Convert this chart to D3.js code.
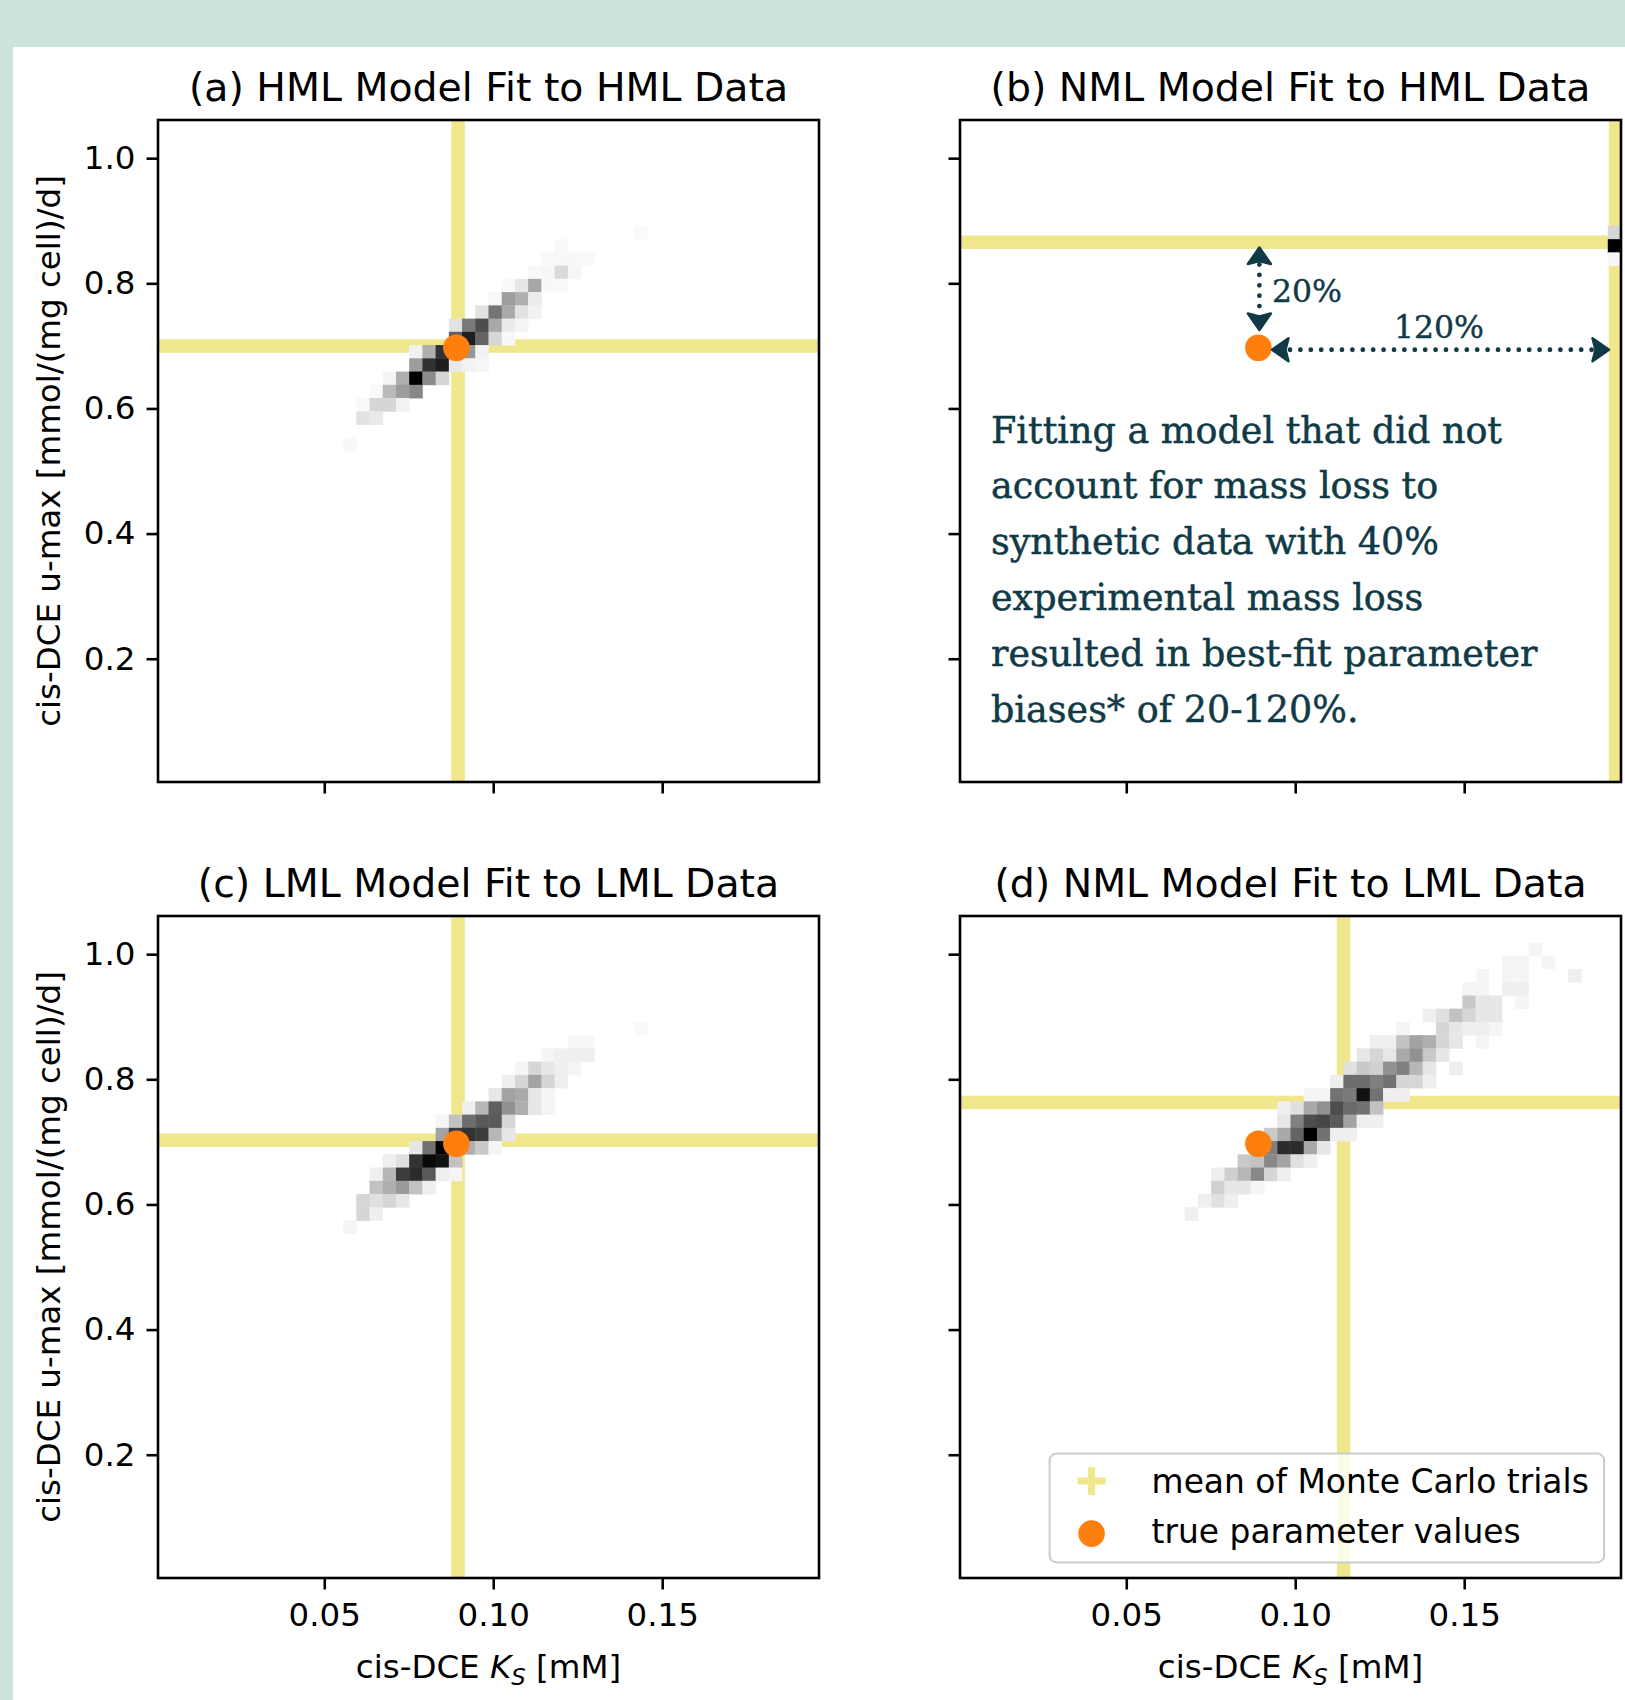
<!DOCTYPE html>
<html>
<head>
<meta charset="utf-8">
<script src="https://cdnjs.cloudflare.com/ajax/libs/d3/7.8.5/d3.min.js"></script>
<style>
  body { margin: 0; background: #cce5dc; }
  svg { display: block; }
  text { font-family: "DejaVu Sans", sans-serif; }
</style>
</head>
<body>
<svg id="chart" width="1625" height="1700"></svg>
<script>
// axis extents = histogram range (50 x 50 bins)
var xRange = [0.0008, 0.1964];
var yRange = [0.003, 1.061];
var nBins = 50;

var xTicks = [0.05, 0.10, 0.15];
var yTicks = [0.2, 0.4, 0.6, 0.8, 1.0];

var titles = [
    "(a) HML Model Fit to HML Data",
    "(b) NML Model Fit to HML Data",
    "(c) LML Model Fit to LML Data",
    "(d) NML Model Fit to LML Data"
];

// true parameter values [Ks, u-max]
var trueValue = [0.0891, 0.697];

// mean of Monte Carlo trials per panel [Ks, u-max]
var meanValues = [
    [0.0896, 0.700],
    [0.1948, 0.8656],
    [0.0896, 0.7027],
    [0.1143, 0.763]
];

// 2d histogram cells: [x bin, y bin (from bottom), relative count]
var histA = [
    [36,41,.04],
    [30,40,.05],
    [29,39,.05],[30,39,.06],[31,39,.06],[32,39,.05],
    [28,38,.06],[29,38,.07],[30,38,.24],[31,38,.07],
    [26,37,.05],[27,37,.18],[28,37,.45],[29,37,.06],[30,37,.05],
    [25,36,.06],[26,36,.48],[27,36,.42],[28,36,.14],
    [24,35,.2],[25,35,.62],[26,35,.44],[27,35,.2],[28,35,.1],
    [22,34,.2],[23,34,.6],[24,34,.76],[25,34,.44],[26,34,.15],[27,34,.08],
    [22,33,.7],[23,33,.9],[24,33,.68],[25,33,.26],[26,33,.06],
    [19,32,.1],[20,32,.42],[21,32,.84],[22,32,.9],[23,32,.5],[24,32,.1],
    [19,31,.48],[20,31,.84],[21,31,.9],[22,31,.16],[23,31,.1],[24,31,.07],
    [17,30,.08],[18,30,.42],[19,30,1],[20,30,.54],[21,30,.26],
    [16,29,.05],[17,29,.38],[18,29,.48],[19,29,.55],
    [15,28,.05],[16,28,.26],[17,28,.26],[18,28,.1],
    [15,27,.2],[16,27,.16],
    [14,25,.06]
];

var histB = [
    [49,41,.26],[49,40,1],[49,39,.06]
];

var histC = [
    [36,41,.05],
    [31,40,.06],[32,40,.06],
    [29,39,.08],[30,39,.12],[31,39,.12],[32,39,.12],
    [27,38,.08],[28,38,.26],[29,38,.17],[30,38,.12],[31,38,.08],
    [26,37,.12],[27,37,.26],[28,37,.46],[29,37,.26],[30,37,.12],
    [25,36,.17],[26,36,.46],[27,36,.44],[28,36,.17],[29,36,.08],
    [23,35,.12],[24,35,.39],[25,35,.7],[26,35,.52],[27,35,.42],[28,35,.17],[29,35,.08],
    [21,34,.08],[22,34,.35],[23,34,.65],[24,34,.72],[25,34,.72],[26,34,.26],
    [21,33,.46],[22,33,.81],[23,33,.84],[24,33,.81],[25,33,.39],[26,33,.17],
    [19,32,.17],[20,32,.63],[21,32,1],[22,32,.9],[23,32,.42],[24,32,.32],[25,32,.08],
    [17,31,.12],[18,31,.21],[19,31,.84],[20,31,.97],[21,31,.94],[22,31,.35],
    [16,30,.12],[17,30,.39],[18,30,.81],[19,30,.86],[20,30,.72],[21,30,.12],[22,30,.08],
    [16,29,.35],[17,29,.42],[18,29,.49],[19,29,.35],[20,29,.12],
    [15,28,.26],[16,28,.21],[17,28,.26],[18,28,.17],
    [15,27,.26],[16,27,.12],
    [14,26,.08]
];

var histD = [
    [43,47,.08],
    [41,46,.08],[42,46,.08],[44,46,.08],
    [39,45,.08],[41,45,.08],[42,45,.08],[46,45,.12],
    [38,44,.08],[39,44,.08],[41,44,.12],[42,44,.12],
    [38,43,.32],[39,43,.17],[40,43,.17],[42,43,.08],
    [35,42,.12],[36,42,.21],[37,42,.35],[38,42,.26],[39,42,.17],[40,42,.17],
    [33,41,.08],[36,41,.26],[37,41,.17],[38,41,.12],[39,41,.12],[40,41,.08],
    [31,40,.12],[32,40,.12],[33,40,.35],[34,40,.46],[35,40,.42],[36,40,.26],[37,40,.17],[39,40,.08],
    [30,39,.17],[31,39,.26],[32,39,.17],[33,39,.44],[34,39,.52],[35,39,.32],[36,39,.17],
    [29,38,.21],[30,38,.32],[31,38,.29],[32,38,.52],[33,38,.58],[34,38,.39],[35,38,.17],[37,38,.12],
    [28,37,.12],[29,37,.65],[30,37,.65],[31,37,.58],[32,37,.63],[33,37,.26],[34,37,.26],[35,37,.12],
    [26,36,.08],[27,36,.08],[28,36,.63],[29,36,.6],[30,36,.94],[31,36,.63],[32,36,.12],[33,36,.12],
    [24,35,.12],[25,35,.21],[26,35,.44],[27,35,.52],[28,35,.76],[29,35,.66],[30,35,.63],[31,35,.35],
    [24,34,.17],[25,34,.58],[26,34,.76],[27,34,.78],[28,34,.72],[29,34,.46],[30,34,.12],[31,34,.12],
    [23,33,.32],[24,33,.44],[25,33,.68],[26,33,1],[27,33,.63],[28,33,.12],[29,33,.12],
    [22,32,.4],[23,32,.58],[24,32,.86],[25,32,.86],[26,32,.44],[27,32,.17],
    [21,31,.32],[22,31,.35],[23,31,.55],[24,31,.46],[25,31,.21],[26,31,.12],
    [19,30,.12],[20,30,.29],[21,30,.39],[22,30,.55],[23,30,.26],[24,30,.12],
    [19,29,.29],[20,29,.17],[21,29,.17],[22,29,.08],
    [18,28,.12],[19,28,.21],[20,28,.12],
    [17,27,.12]
];

var hists = [histA, histB, histC, histD];

var noteLines = [
    "Fitting a model that did not",
    "account for mass loss to",
    "synthetic data with 40%",
    "experimental mass loss",
    "resulted in best-fit parameter",
    "biases* of 20-120%."
];

var legendLabels = ["mean of Monte Carlo trials", "true parameter values"];

// ---- layout
var svg = d3.select("#chart");
var W = 661, H = 662;
var panelPos = [[158, 120], [960, 120], [158, 916], [960, 916]];
var khaki = "#f0e68c", orange = "#ff7f0e", ink = "#113a47";
var fs = 32.5;

svg.append("rect")
    .attr("x", 13).attr("y", 47)
    .attr("width", 1625 - 13).attr("height", 1700 - 47)
    .attr("fill", "#ffffff");

var defs = svg.append("defs");

var x = d3.scaleLinear().domain(xRange).range([0, W]);
var y = d3.scaleLinear().domain(yRange).range([H, 0]);
var dx = (xRange[1] - xRange[0]) / nBins,
    dy = (yRange[1] - yRange[0]) / nBins;

panelPos.forEach(function(p, i) {
    var g = svg.append("g").attr("transform", "translate(" + p[0] + "," + p[1] + ")");

    defs.append("clipPath").attr("id", "clip" + i)
        .append("rect").attr("width", W).attr("height", H);

    var plot = g.append("g").attr("clip-path", "url(#clip" + i + ")");

    // mean crosshair
    plot.append("line")
        .attr("x1", 0).attr("x2", W)
        .attr("y1", y(meanValues[i][1])).attr("y2", y(meanValues[i][1]))
        .attr("stroke", khaki).attr("stroke-width", 13.5);
    plot.append("line")
        .attr("y1", 0).attr("y2", H)
        .attr("x1", x(meanValues[i][0])).attr("x2", x(meanValues[i][0]))
        .attr("stroke", khaki).attr("stroke-width", 13.5);

    // histogram cells
    plot.selectAll("rect.cell")
        .data(hists[i])
        .enter().append("rect")
        .attr("class", "cell")
        .attr("x", function(d) { return x(xRange[0] + d[0] * dx); })
        .attr("y", function(d) { return y(yRange[0] + (d[1] + 1) * dy); })
        .attr("width", function(d) { return x(xRange[0] + (d[0] + 1) * dx) - x(xRange[0] + d[0] * dx) + 0.4; })
        .attr("height", function(d) { return y(yRange[0] + d[1] * dy) - y(yRange[0] + (d[1] + 1) * dy) + 0.4; })
        .attr("fill", function(d) { return d3.interpolateGreys(d[2]); });

    // true value
    plot.append("circle")
        .attr("cx", x(trueValue[0])).attr("cy", y(trueValue[1]))
        .attr("r", 13.3).attr("fill", orange);

    // axes
    var bottom = i >= 2, left = i % 2 == 0;
    var xAxis = d3.axisBottom(x).tickValues(xTicks).tickSize(11.5).tickPadding(13)
        .tickFormat(bottom ? d3.format(".2f") : "");
    var yAxis = d3.axisLeft(y).tickValues(yTicks).tickSize(11.5).tickPadding(11)
        .tickFormat(left ? d3.format(".1f") : "");

    var gx = g.append("g").attr("transform", "translate(0," + H + ")").call(xAxis);
    var gy = g.append("g").call(yAxis);
    [gx, gy].forEach(function(a) {
        a.select(".domain").remove();
        a.selectAll("line").attr("stroke", "#000").attr("stroke-width", 2.6);
        a.selectAll("text").attr("fill", "#000").style("font-size", fs + "px")
            .style("font-family", "'DejaVu Sans', sans-serif");
    });

    g.append("rect")
        .attr("width", W).attr("height", H)
        .attr("fill", "none").attr("stroke", "#000").attr("stroke-width", 2.6);

    g.append("text")
        .attr("x", W / 2).attr("y", -19.5)
        .attr("text-anchor", "middle")
        .style("font-size", "39.4px")
        .text(titles[i]);

    if (left) {
        g.append("text")
            .attr("transform", "translate(" + (49 - p[0]) + "," + (H / 2) + ") rotate(-90)")
            .attr("text-anchor", "middle")
            .attr("dy", "0.35em")
            .style("font-size", fs + "px")
            .text("cis-DCE u-max [mmol/(mg cell)/d]");
    }
    if (bottom) {
        var xl = g.append("text")
            .attr("x", W / 2).attr("y", 1678 - p[1])
            .attr("text-anchor", "middle")
            .style("font-size", fs + "px");
        xl.append("tspan").text("cis-DCE ");
        xl.append("tspan").style("font-style", "italic").text("K");
        xl.append("tspan").style("font-style", "italic").style("font-size", (fs * 0.7) + "px")
            .attr("dy", 7).text("S");
        xl.append("tspan").attr("dy", -7).text(" [mM]");
    }
});

// ---- annotation in panel (b)
var bx = d3.scaleLinear().domain(xRange).range([panelPos[1][0], panelPos[1][0] + W]);
var by = d3.scaleLinear().domain(yRange).range([panelPos[1][1] + H, panelPos[1][1]]);
var ann = svg.append("g");

function arrowHead(px, py, dir) {
    // dir: unit vector the tip points to
    var L = 16.5, Wd = 11.5;
    var bxp = px - dir[0] * L, byp = py - dir[1] * L;
    var nx = -dir[1], ny = dir[0];
    ann.append("path")
        .attr("d", "M" + px + "," + py +
            "L" + (bxp + nx * Wd) + "," + (byp + ny * Wd) +
            "L" + (bxp + dir[0] * 3) + "," + (byp + dir[1] * 3) +
            "L" + (bxp - nx * Wd) + "," + (byp - ny * Wd) + "Z")
        .attr("fill", ink).attr("stroke", ink)
        .attr("stroke-width", 2.5).attr("stroke-linejoin", "round");
}

var vx = bx(trueValue[0]) + 1, vTop = 247.5, vBot = 330;
ann.append("line")
    .attr("x1", vx).attr("x2", vx).attr("y1", vTop + 17).attr("y2", vBot - 17)
    .attr("stroke", ink).attr("stroke-width", 4.8)
    .attr("stroke-linecap", "round").attr("stroke-dasharray", "0 10.4");
arrowHead(vx, vTop, [0, -1]);
arrowHead(vx, vBot, [0, 1]);

var hy = by(trueValue[1]) + 2, hL = 1272, hR = 1609;
ann.append("line")
    .attr("x1", hL + 18).attr("x2", hR - 16).attr("y1", hy).attr("y2", hy)
    .attr("stroke", ink).attr("stroke-width", 4.8)
    .attr("stroke-linecap", "round").attr("stroke-dasharray", "0 10.4");
arrowHead(hL, hy, [-1, 0]);
arrowHead(hR, hy, [1, 0]);

ann.append("text").attr("x", 1272).attr("y", 302)
    .style("font-family", "'DejaVu Serif', serif").style("font-size", "31.5px")
    .attr("fill", ink).attr("stroke", ink).attr("stroke-width", 0.4).text("20%");
ann.append("text").attr("x", 1394).attr("y", 338)
    .style("font-family", "'DejaVu Serif', serif").style("font-size", "31.5px")
    .attr("fill", ink).attr("stroke", ink).attr("stroke-width", 0.4).text("120%");

ann.selectAll("text.note")
    .data(noteLines)
    .enter().append("text")
    .attr("class", "note")
    .attr("x", 991)
    .attr("y", function(d, i) { return 442.6 + i * 55.8; })
    .style("font-family", "'DejaVu Serif', serif").style("font-size", "36.5px")
    .attr("fill", ink).attr("stroke", ink).attr("stroke-width", 0.5)
    .text(function(d) { return d; });

// ---- legend in panel (d)
var leg = svg.append("g").attr("transform", "translate(1049.6,1453.6)");
leg.append("rect")
    .attr("width", 554.5).attr("height", 108.8).attr("rx", 7)
    .attr("fill", "#ffffff").attr("fill-opacity", 0.8)
    .attr("stroke", "#cccccc").attr("stroke-width", 2);
var mx = 42, m1 = 27.4, m2 = 80;
leg.append("line").attr("x1", mx - 14).attr("x2", mx + 14).attr("y1", m1).attr("y2", m1)
    .attr("stroke", khaki).attr("stroke-width", 7);
leg.append("line").attr("x1", mx).attr("x2", mx).attr("y1", m1 - 14).attr("y2", m1 + 14)
    .attr("stroke", khaki).attr("stroke-width", 7);
leg.append("circle").attr("cx", mx).attr("cy", m2).attr("r", 13.3).attr("fill", orange);
leg.selectAll("text")
    .data(legendLabels)
    .enter().append("text")
    .attr("x", 102)
    .attr("y", function(d, i) { return (i == 0 ? m1 : m2 - 2) + 11.6; })
    .style("font-size", "32.9px")
    .attr("fill", "#000")
    .text(function(d) { return d; });
</script>
</body>
</html>
